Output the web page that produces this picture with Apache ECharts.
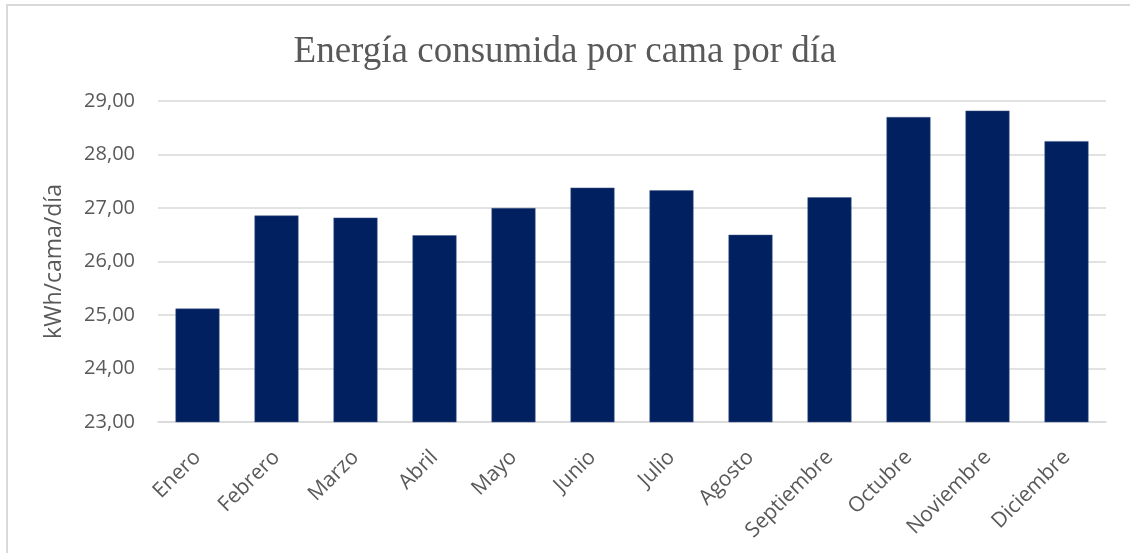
<!DOCTYPE html>
<html>
<head>
<meta charset="utf-8">
<script src="https://cdn.jsdelivr.net/npm/echarts@6/dist/echarts.min.js"></script>
<style>
  html, body { margin: 0; padding: 0; background: #fff; }
  #frame {
    position: absolute; left: 6px; top: 4px; width: 1130px; height: 560px;
    border-top: 2px solid #d9d9d9; border-left: 2px solid #d9d9d9;
  }
  #chart { position: absolute; left: 0; top: 0; width: 1130px; height: 553px; }
</style>
</head>
<body>
<div id="frame"></div>
<div id="chart"></div>
<script>
const months = ['Enero', 'Febrero', 'Marzo', 'Abril', 'Mayo', 'Junio', 'Julio',
  'Agosto', 'Septiembre', 'Octubre', 'Noviembre', 'Diciembre']
const energy = [25.12, 26.86, 26.82, 26.49, 27.0, 27.38, 27.33, 26.5, 27.2, 28.7, 28.82, 28.25]

const chart = echarts.init(document.getElementById('chart'))
const textColor = '#595959'
const uiFont = '"Open Sans", "Noto Sans", sans-serif'

chart.setOption({
  backgroundColor: 'transparent',
  animation: false,
  title: {
    text: 'Energía consumida por cama por día',
    left: 'center',
    top: 29,
    textStyle: {
      fontFamily: '"Liberation Serif", "DejaVu Serif", serif',
      fontSize: 37,
      fontWeight: 'normal',
      color: textColor,
    },
  },
  grid: { left: 158, right: 24, top: 101, bottom: 131 },
  xAxis: {
    type: 'category',
    data: months,
    axisLine: { lineStyle: { color: '#d9d9d9', width: 1.5 } },
    axisTick: { show: false },
    axisLabel: {
      rotate: 45,
      margin: 32,
      color: textColor,
      fontFamily: uiFont,
      fontSize: 21,
    },
  },
  yAxis: {
    type: 'value',
    min: 23,
    max: 29,
    interval: 1,
    name: 'kWh/cama/día',
    nameLocation: 'middle',
    nameGap: 92,
    nameTextStyle: { color: textColor, fontFamily: uiFont, fontSize: 23 },
    axisLine: { show: false },
    axisTick: { show: false },
    axisLabel: {
      margin: 23,
      color: textColor,
      fontFamily: uiFont,
      fontSize: 20,
      formatter: (v) => v.toFixed(2).replace('.', ','),
    },
    splitLine: { lineStyle: { color: '#d9d9d9', width: 1.5 } },
  },
  series: [
    {
      type: 'bar',
      data: energy,
      barWidth: 44,
      itemStyle: { color: '#002060', borderColor: '#4a5f8c', borderWidth: 0.5 },
    },
  ],
})
</script>
</body>
</html>
